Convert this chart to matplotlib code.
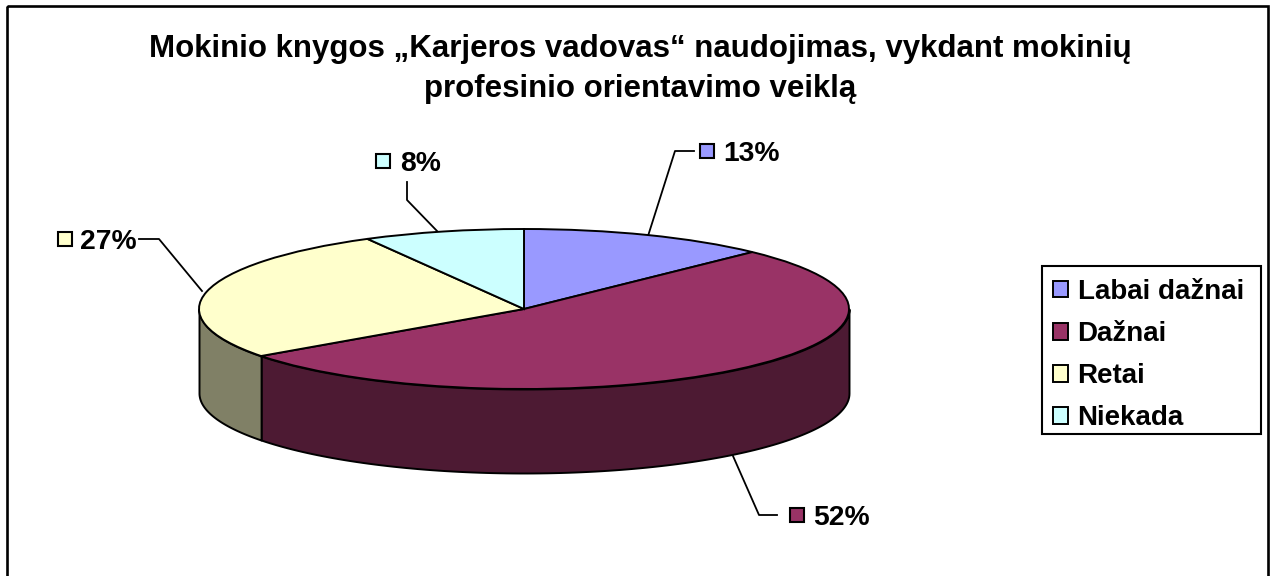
import numpy as np
import matplotlib
matplotlib.use("Agg")
import matplotlib.pyplot as plt
from matplotlib.patches import Rectangle

plt.rcParams['font.family'] = ['Liberation Sans', 'DejaVu Sans']

title = "Mokinio knygos „Karjeros vadovas“ naudojimas, vykdant mokinių\nprofesinio orientavimo veiklą"
categories = ["Labai dažnai", "Dažnai", "Retai", "Niekada"]
values = [12.4, 52.6, 27.0, 8.0]
pct_labels = ["13%", "52%", "27%", "8%"]
top_colors = ["#9999FF", "#993366", "#FFFFCC", "#CCFFFF"]
side_colors = ["#4D4D80", "#4D1A33", "#808066", "#668080"]

W, H = 1277, 576
fig = plt.figure(figsize=(W / 100, H / 100), dpi=100, facecolor="white")

# overlay in pixel coordinates for the frame, labels and leaders
bg = fig.add_axes([0, 0, 1, 1])
bg.set_xlim(0, W)
bg.set_ylim(H, 0)
bg.axis("off")
bg.add_patch(Rectangle((7, 6), 1261, 590, fill=False, ec="black", lw=1.9))
bg.add_patch(Rectangle((1042, 266), 219, 168, fill=False, ec="black", lw=1.5))
bg.text(640, 69, title, ha="center", va="center", fontsize=22.5, fontweight="bold",
        linespacing=1.42)

# pie axes: ellipse 199..849 wide, top 229, rim 389, wall down to 473
depth = 84 / 80
ax = fig.add_axes([199 / W, 1 - 473 / H, 650 / W, 244 / H])
wedges, _ = ax.pie(values, colors=top_colors, startangle=90, counterclock=False,
                   wedgeprops=dict(edgecolor="black", linewidth=1.4, zorder=3))
ax.set_xlim(-1, 1)
ax.set_ylim(-1 - depth, 1)
ax.set_aspect("auto")

# side wall, only lower half of the rim is seen
edges = 90 - 360 * np.cumsum([0] + values) / sum(values)
for i in range(len(values)):
    hi = min(edges[i], 0)
    lo = max(edges[i + 1], -180)
    if hi <= lo:
        continue
    t = np.radians(np.linspace(hi, lo, 120))
    ax.fill_between(np.cos(t), np.sin(t), np.sin(t) - depth, color=side_colors[i],
                    edgecolor="black", linewidth=1.4, zorder=1, clip_on=False)

# data labels
label_xy = [(723, 151), (813, 515), (80, 239), (400, 161)]
marker_xy = [(707, 151), (797, 515), (65, 239), (383, 161)]
leaders = [
    [(648, 236), (675, 151), (694, 151)],
    [(733, 456), (759, 515), (777, 515)],
    [(139, 239), (159, 239), (202, 291)],
    [(407, 182), (407, 200), (438, 232)],
]
for i, lab in enumerate(pct_labels):
    bg.text(label_xy[i][0], label_xy[i][1], lab, ha="left", va="center_baseline",
            fontsize=20.3, fontweight="bold")
    bg.plot(*marker_xy[i], marker="s", ms=10.5, mfc=top_colors[i], mec="black", mew=1.5)
    xs, ys = zip(*leaders[i])
    bg.plot(xs, ys, color="black", lw=1.3)

# legend on top of everything, its box is drawn above
lax = fig.add_axes([0, 0, 1, 1])
lax.axis("off")
leg = lax.legend(wedges, categories, loc="upper left", mode="expand",
                 bbox_to_anchor=(1042 / W, 1 - 436 / H, 219 / W, 168 / H),
                 bbox_transform=fig.transFigure,
                 prop=dict(weight="bold", size=20), frameon=False, borderaxespad=0, borderpad=0.39,
                 labelspacing=0.58, handlelength=0.56, handleheight=0.56, handletextpad=0.33)

fig.savefig("out.png", dpi=100)
